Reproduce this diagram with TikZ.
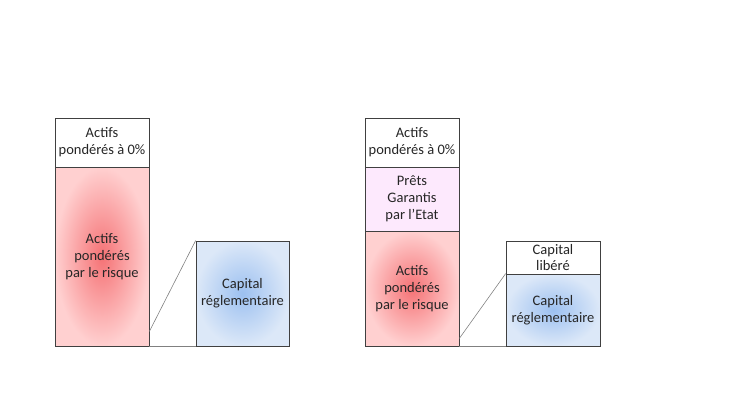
\documentclass[tikz,border=0pt]{standalone}
\usepackage{fontspec}
\setmainfont{Carlito}
\usepackage{xcolor}
\definecolor{rwared}{HTML}{F57275}
\definecolor{rwapale}{HTML}{FFD0D0}
\definecolor{capblue}{HTML}{9CC0F0}
\definecolor{cappale}{HTML}{DCE8F8}
\definecolor{pgepink}{HTML}{FDE9FD}
\usepackage{tikz}

\begin{document}
\begin{tikzpicture}[
  x=1pt, y=-1pt,
  font=\fontsize{14.5}{16.8}\selectfont,
  box/.style={draw=black!75, line width=0.75pt, align=center, text=black!85,
              inner sep=2pt, minimum width=94pt},
  whitebox/.style={box, fill=white},
  redbox/.style={box, shading=radial, inner color=rwared, outer color=rwapale},
  bluebox/.style={box, shading=radial, inner color=capblue, outer color=cappale},
  pinkbox/.style={box, fill=pgepink},
  link/.style={line width=0.6pt, draw=black!50}
]
\useasboundingbox (0,0) rectangle (730,410);

% avant
\node[whitebox, minimum height=49pt] (zeroL) at (102,142.5) {Actifs\\pondérés à 0\%};
\node[redbox, minimum height=179pt] (rwaL) at (102,256.5) {Actifs\\pondérés\\par le risque};
\node[bluebox, minimum height=105pt, minimum width=93pt] (capL) at (242.5,293.5) {Capital\\réglementaire};
\coordinate (cutL) at ([yshift=15pt]rwaL.south east);

\draw[link] (cutL) -- (capL.north west);
\draw[link] (rwaL.south east) -- (capL.south west);

% après
\node[whitebox, minimum height=49pt] (zeroR) at (412,142.5) {Actifs\\pondérés à 0\%};
\node[pinkbox, minimum height=64pt] (pgeR) at (412,199) {Prêts\\Garantis\\par l’Etat};
\node[redbox, minimum height=115pt] (rwaR) at (412,288.5) {Actifs\\pondérés\\par le risque};
\node[whitebox, minimum height=33pt] (libR) at (553,257.5) {Capital\\libéré};
\node[bluebox, minimum height=72pt] (capR) at (553,310) {Capital\\réglementaire};
\coordinate (cutR) at ([yshift=8pt]rwaR.south east);

\draw[link] (cutR) -- (capR.north west);
\draw[link] (rwaR.south east) -- (capR.south west);
\end{tikzpicture}
\end{document}
